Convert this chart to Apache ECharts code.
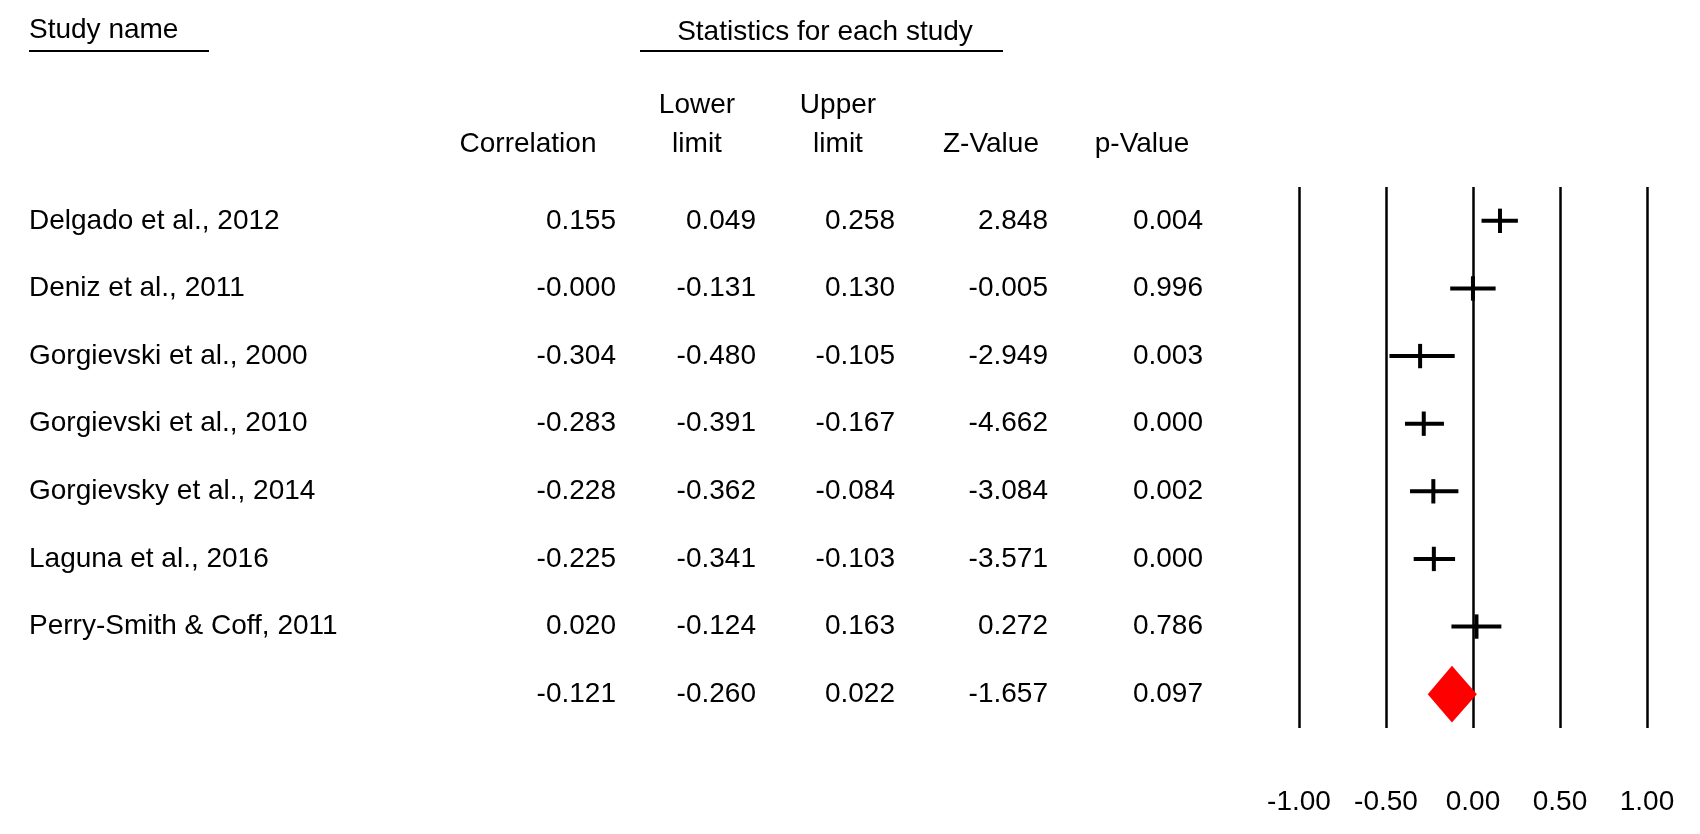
<!DOCTYPE html>
<html>
<head>
<meta charset="utf-8">
<title>Forest plot</title>
<script src="https://cdn.jsdelivr.net/npm/echarts@6.0.0/dist/echarts.min.js"></script>
<style>
html,body{margin:0;padding:0;background:#fff;}
#main{width:1700px;height:834px;}
</style>
</head>
<body>
<div id="main"></div>
<script>
// 数据：最后一行是合并结果（没有名字）
var studies = ['Delgado et al., 2012', 'Deniz et al., 2011', 'Gorgievski et al., 2000', 'Gorgievski et al., 2010',
    'Gorgievsky et al., 2014', 'Laguna et al., 2016', 'Perry-Smith & Coff, 2011', ''];
var correlation = [0.155, -0.0003, -0.304, -0.283, -0.228, -0.225, 0.020, -0.121];
var lowerLimit = [0.049, -0.131, -0.480, -0.391, -0.362, -0.341, -0.124, -0.260];
var upperLimit = [0.258, 0.130, -0.105, -0.167, -0.084, -0.103, 0.163, 0.022];
var zValue = [2.848, -0.005, -2.949, -4.662, -3.084, -3.571, 0.272, -1.657];
var pValue = [0.004, 0.996, 0.003, 0.000, 0.002, 0.000, 0.786, 0.097];
var xTicks = [-1.00, -0.50, 0.00, 0.50, 1.00];
var summaryRow = studies.length - 1;

// 版式
var FONT_FAMILY = '"Liberation Sans", Arial, sans-serif';
var FONT = '28px ' + FONT_FAMILY;
var nameLeft = 29;
var colRight = [616, 756, 895, 1048, 1203];

function headText(txt, x, y, align)
{
    return {
        type: 'text', x: x, y: y,
        style: {text: txt, font: FONT, fill: '#000', align: align || 'center', verticalAlign: 'middle', lineHeight: 39}
    };
}
function headLine(x1, x2, y)
{
    return {type: 'line', shape: {x1: x1, y1: y, x2: x2, y2: y}, style: {stroke: '#000', lineWidth: 2}};
}

// 表格每一行的文字
function renderTable(params, api)
{
    var i = api.value(1);
    var y = api.coord([0, i])[1];
    var cells = [correlation[i], lowerLimit[i], upperLimit[i], zValue[i], pValue[i]];
    var children = [{
        type: 'text', x: nameLeft, y: y,
        style: {text: studies[i], font: FONT, fill: '#000', align: 'left', verticalAlign: 'middle'}
    }];
    for (var k = 0; k < cells.length; k++) {
        children.push({
            type: 'text', x: colRight[k], y: y,
            style: {text: cells[k].toFixed(3), font: FONT, fill: '#000', align: 'right', verticalAlign: 'middle'}
        });
    }
    return {type: 'group', children: children};
}

// 森林图：十字 + 菱形
function renderForest(params, api)
{
    var i = api.value(3);
    var c = api.coord([api.value(0), i]);
    var lo = api.coord([api.value(1), i]);
    var hi = api.coord([api.value(2), i]);
    var band = api.size([0, 1])[1];
    if (i === summaryRow) {
        var h = band * 0.42;
        return {
            type: 'polygon',
            shape: {points: [[lo[0], c[1]], [c[0], c[1] - h], [hi[0], c[1]], [c[0], c[1] + h]]},
            style: {fill: '#ff0000', stroke: 'none'}
        };
    }
    var t = band * 0.18;
    return {
        type: 'group',
        children: [
            {type: 'line', shape: {x1: lo[0], y1: c[1], x2: hi[0], y2: c[1]}, style: {stroke: '#000', lineWidth: 4}},
            {type: 'line', shape: {x1: c[0], y1: c[1] - t, x2: c[0], y2: c[1] + t}, style: {stroke: '#000', lineWidth: 4}}
        ]
    };
}

var forestData = [];
var tableData = [];
for (var i = 0; i < studies.length; i++) {
    forestData.push([correlation[i], lowerLimit[i], upperLimit[i], i]);
    tableData.push([correlation[i], i]);
}

var myChart = echarts.init(document.getElementById('main'));
var option = {
    animation: false,
    backgroundColor: '#fff',
    grid: {left: 1299, right: 53, top: 187, bottom: 106},
    xAxis: {
        type: 'value',
        min: xTicks[0],
        max: xTicks[xTicks.length - 1],
        interval: xTicks[1] - xTicks[0],
        axisLine: {show: false},
        axisTick: {show: false},
        splitLine: {show: true, lineStyle: {color: '#000', width: 2.5}},
        axisLabel: {
            formatter: function (v) { return v.toFixed(2); },
            color: '#000', fontSize: 28, fontFamily: FONT_FAMILY, margin: 60,
            showMinLabel: true, showMaxLabel: true
        }
    },
    yAxis: {
        type: 'category',
        inverse: true,
        data: studies.map(function (s, i) { return i; }),
        show: false
    },
    graphic: [
        headText('Study name', nameLeft, 30, 'left'),
        headLine(29, 209, 51),
        headText('Statistics for each study', 825, 32),
        headLine(640, 1003, 51),
        headText('Correlation', 528, 144),
        headText('Lower\nlimit', 697, 125),
        headText('Upper\nlimit', 838, 125),
        headText('Z-Value', 991, 144),
        headText('p-Value', 1142, 144)
    ],
    series: [
        {type: 'custom', renderItem: renderTable, data: tableData, silent: true},
        {type: 'custom', renderItem: renderForest, data: forestData, silent: true}
    ]
};
myChart.setOption(option);
</script>
</body>
</html>
